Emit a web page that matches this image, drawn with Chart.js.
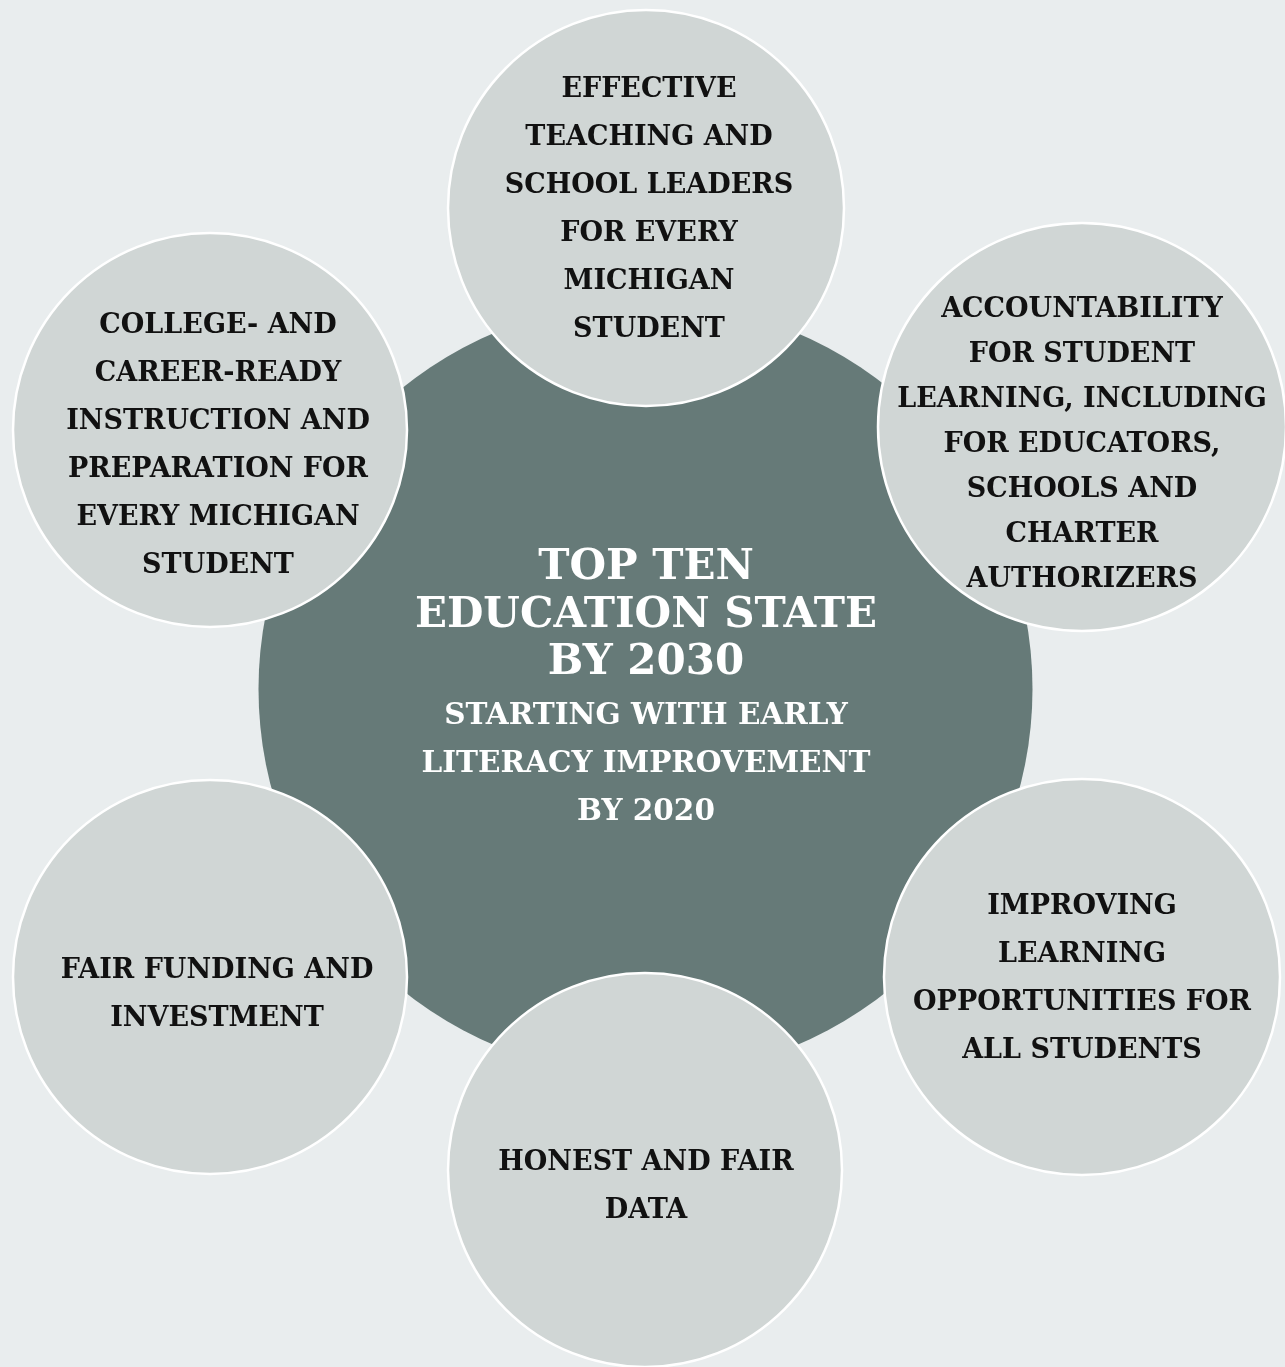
<!DOCTYPE html>
<html>
<head>
<meta charset="utf-8">
<script src="https://cdn.jsdelivr.net/npm/chart.js@4.4.1/dist/chart.umd.min.js"></script>
<style>
  html, body { margin: 0; padding: 0; background: #e9edee; }
  #wrap { width: 1285px; height: 1367px; }
</style>
</head>
<body>
<div id="wrap"><canvas id="myChart" width="1285" height="1367"></canvas></div>
<script>
// outer circles, clockwise from the top
let labels = [
    ['EFFECTIVE', 'TEACHING AND', 'SCHOOL LEADERS', 'FOR EVERY', 'MICHIGAN', 'STUDENT'],
    ['ACCOUNTABILITY', 'FOR STUDENT', 'LEARNING, INCLUDING', 'FOR EDUCATORS,', 'SCHOOLS AND', 'CHARTER', 'AUTHORIZERS'],
    ['IMPROVING', 'LEARNING', 'OPPORTUNITIES FOR', 'ALL STUDENTS'],
    ['HONEST AND FAIR', 'DATA'],
    ['FAIR FUNDING AND', 'INVESTMENT'],
    ['COLLEGE- AND', 'CAREER-READY', 'INSTRUCTION AND', 'PREPARATION FOR', 'EVERY MICHIGAN', 'STUDENT']
];
let xValues = [646, 1082, 1082, 645, 210, 210];
let yValues = [208, 427, 977, 1170, 977, 430];
let rValues = [198, 204, 198, 197, 197, 197];
// where each text block sits (centre of the block)
let textX = [649, 1082, 1082, 646, 217, 218];
let textY = [210, 445, 979, 1187, 995, 446];
let lineGap = [48, 45, 48, 48, 48, 48];

let centerTitle = ['TOP TEN', 'EDUCATION STATE', 'BY 2030'];
let centerSub = ['STARTING WITH EARLY', 'LITERACY IMPROVEMENT', 'BY 2020'];
let centerPoint = { x: 645.5, y: 689, r: 387 };

const font = '"DejaVu Serif", serif';

function drawLines(ctx, lines, x, yMid, size, lineH, color) {
    ctx.font = 'bold ' + size + 'px ' + font;
    ctx.fillStyle = color;
    ctx.textAlign = 'center';
    ctx.textBaseline = 'middle';
    let top = yMid - (lines.length - 1) * lineH / 2;
    lines.forEach((line, i) => {
        ctx.fillText(line, x, top + i * lineH);
    });
}

const labelPlugin = {
    id: 'circleLabels',
    afterDatasetsDraw(chart) {
        const ctx = chart.ctx;
        const xScale = chart.scales.x;
        const yScale = chart.scales.y;
        ctx.save();
        labels.forEach((lines, i) => {
            drawLines(ctx, lines, xScale.getPixelForValue(textX[i]), yScale.getPixelForValue(textY[i]), 27, lineGap[i], '#111111');
        });
        const cx = xScale.getPixelForValue(646);
        drawLines(ctx, centerTitle, cx, yScale.getPixelForValue(616), 42, 47.5, '#ffffff');
        drawLines(ctx, centerSub, cx, yScale.getPixelForValue(764), 29.5, 48, '#ffffff');
        ctx.restore();
    }
};

function createChart() {
    const ctx = document.getElementById('myChart');
    new Chart(ctx, {
        type: 'bubble',
        data: {
            datasets: [
                {
                    label: 'center',
                    data: [centerPoint],
                    backgroundColor: '#667a78',
                    borderWidth: 0,
                    order: 2
                },
                {
                    label: 'pillars',
                    data: xValues.map((x, i) => ({ x: x, y: yValues[i], r: rValues[i] })),
                    backgroundColor: '#d0d6d5',
                    borderColor: '#ffffff',
                    borderWidth: 2.5,
                    order: 1
                }
            ]
        },
        options: {
            responsive: false,
            animation: false,
            clip: false,
            layout: { padding: 0, autoPadding: false },
            plugins: {
                legend: { display: false },
                tooltip: { enabled: false }
            },
            scales: {
                x: { type: 'linear', min: 0, max: 1285, display: false },
                y: { type: 'linear', min: 0, max: 1367, reverse: true, display: false }
            },
            events: []
        },
        plugins: [labelPlugin]
    });
}
createChart();
</script>
</body>
</html>
